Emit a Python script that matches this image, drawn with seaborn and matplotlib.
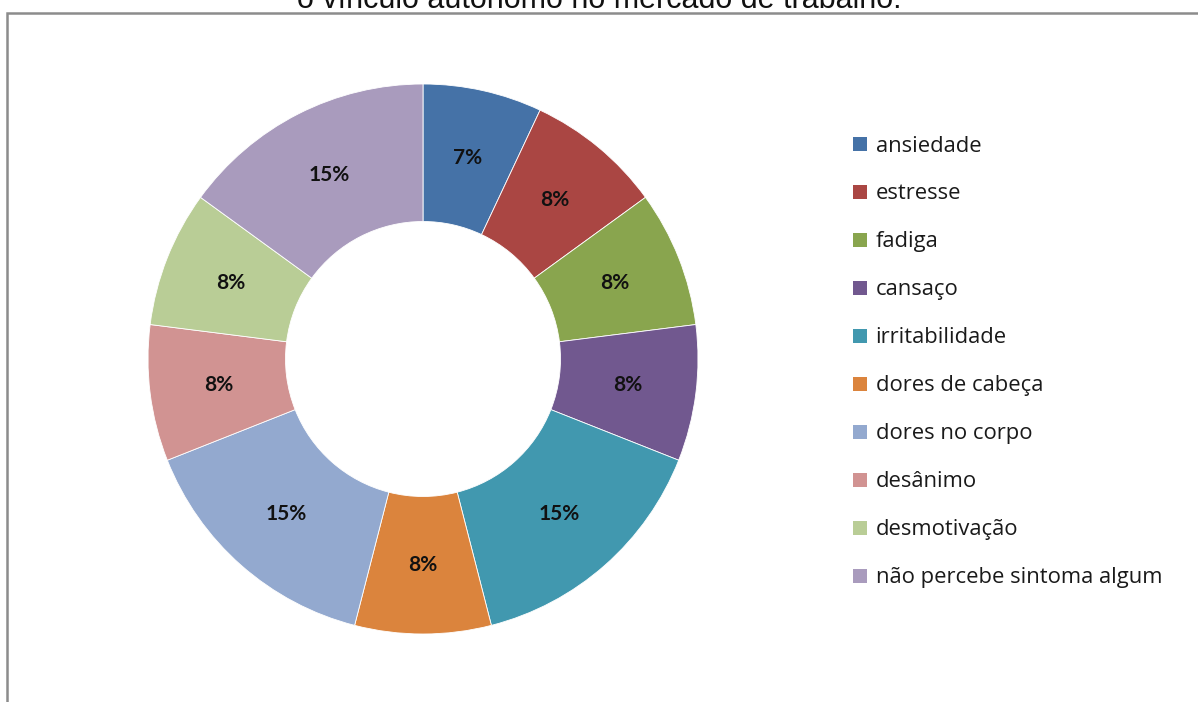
import matplotlib
matplotlib.use("Agg")
import matplotlib.pyplot as plt
from matplotlib.patches import Patch, Rectangle
import seaborn as sns

# Sintomas percebidos (percentual de respostas)
sintomas = ["ansiedade", "estresse", "fadiga", "cansaço", "irritabilidade",
            "dores de cabeça", "dores no corpo", "desânimo", "desmotivação",
            "não percebe sintoma algum"]
percentuais = [7, 8, 8, 8, 15, 8, 15, 8, 8, 15]
cores = ["#4572A7", "#AA4643", "#89A54E", "#71588F", "#4198AF",
         "#DB843D", "#93A9CF", "#D19392", "#B9CD96", "#A99BBD"]
titulo = "o vínculo autônomo no mercado de trabalho."

sns.set_theme(style="white")
plt.rcParams["font.family"] = ["Open Sans", "DejaVu Sans"]
paleta = sns.color_palette(cores)

W, H = 1198, 702
fig = plt.figure(figsize=(W / 100, H / 100), dpi=100)
fig.patch.set_facecolor("white")

# moldura do gráfico
fig.patches.append(Rectangle((7 / W, -0.05), 1.2, 1 - 12.5 / H + 0.05,
                             transform=fig.transFigure, fill=False,
                             edgecolor="#8c8c8c", linewidth=1.8, zorder=0))

# título (parcialmente cortado no topo)
fig.text(599 / W, 1 - 8.5 / H, titulo, ha="center", va="baseline",
         fontsize=22, family=["Liberation Sans", "DejaVu Sans"],
         color="#111111")

cx, cy, r = 423, 359, 275
ax = fig.add_axes([(cx - r) / W, (H - cy - r) / H, 2 * r / W, 2 * r / H])
wedges, _, autotexts = ax.pie(
    percentuais, colors=paleta, startangle=90, counterclock=False,
    radius=1, autopct=lambda p: f"{p:.0f}%", pctdistance=0.75,
    wedgeprops=dict(width=0.5, edgecolor="white", linewidth=0.6),
    textprops=dict(fontsize=15, fontweight="bold", color="#111111",
                   family=["Lato", "DejaVu Sans"]))
ax.set_xlim(-1, 1)
ax.set_ylim(-1, 1)
ax.set_aspect("equal")
ax.axis("off")

handles = [Patch(facecolor=c, edgecolor="none") for c in paleta]
fig.legend(handles, sintomas, loc="upper left",
           bbox_to_anchor=(853 / W, 1 - 135.5 / H), frameon=False,
           fontsize=15.8, handlelength=0.62, handleheight=0.62,
           handletextpad=0.41, labelspacing=1.23, borderaxespad=0,
           borderpad=0, labelcolor="#1a1a1a")

fig.savefig("out.png", dpi=100, facecolor="white")
